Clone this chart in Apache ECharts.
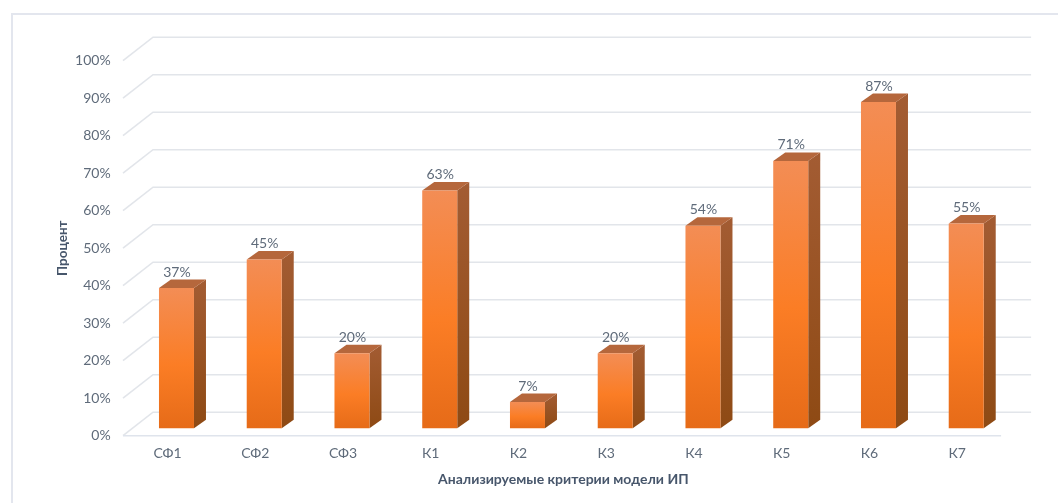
<!DOCTYPE html>
<html><head><meta charset="utf-8">
<style>html,body{margin:0;padding:0;background:#fff}#c{width:1058px;height:503px}</style>
<script src="https://cdn.jsdelivr.net/npm/echarts@6/dist/echarts.min.js"></script>
</head><body><div id="c"></div>
<script>
const categories = ['СФ1','СФ2','СФ3','К1','К2','К3','К4','К5','К6','К7'];
const values = [37.4,45,20,63.4,7,20,54,71.3,87,54.6];
const gridTicks = [0,10,20,30,40,50,60,70,80,90,100];

const FONT = 'Lato, sans-serif';
const TXT = '#5f6b7a';
const BAR_W = 35;
// oblique depth of the wall, and of a bar standing on the floor
const WALL = {dx: 30, dy: -23.5};
const BAR_SHIFT = {dx: 0, dy: -7.4};
const BAR_D = {dx: 12, dy: -8.5};
const lg = (a, b, c) => new echarts.graphic.LinearGradient(0, 0, 0, 1,
  c ? [{offset:0,color:a},{offset:0.55,color:b},{offset:1,color:c}] : [{offset:0,color:a},{offset:1,color:b}]);

const chart = echarts.init(document.getElementById('c'), null, {renderer:'canvas'});
chart.setOption({
  animation: false,
  backgroundColor: '#ffffff',
  grid: {left: 132.6, top: 60.7, width: 877.5, height: 375},
  graphic: [{
    type: 'polyline', silent: true, z: 0,
    shape: {points: [[12,503],[12,14],[1058,14]]},
    style: {stroke:'#e3e6ee', lineWidth: 2, fill: null}
  }],
  xAxis: {
    type: 'category', data: categories,
    axisLine: {show:false}, axisTick: {show:false}, splitLine: {show:false},
    axisLabel: {color: TXT, fontFamily: FONT, fontSize: 14, margin: 11, padding: [0,18,0,0]},
    name: 'Анализируемые критерии модели ИП', nameLocation: 'middle', nameGap: 37, nameMoveOverlap: false,
    nameTextStyle: {color:'#47566b', fontFamily: FONT, fontSize: 14, fontWeight:'bold', padding: [0,16,0,0]}
  },
  yAxis: {
    type: 'value', min: 0, max: 100, interval: 10,
    axisLine: {show:false}, axisTick: {show:false}, splitLine: {show:false},
    axisLabel: {color: TXT, fontFamily: FONT, fontSize: 14, margin: 22, formatter: '{value}%',
      verticalAlign: 'middle', padding: [0,0,1,0]},
    name: 'Процент', nameLocation: 'middle', nameGap: 63, nameMoveOverlap: false,
    nameTextStyle: {color:'#47566b', fontFamily: FONT, fontSize: 13.5, fontWeight:'bold'}
  },
  series: [{
    type: 'custom', coordinateSystem: 'cartesian2d', silent: true, z: 1,
    data: gridTicks.map(v => [0, v]),
    clip: false,
    renderItem(params, api) {
      const v = api.value(1);
      const l = api.coord([0, v]);
      const x0 = params.coordSys.x - 9.6;
      const x1 = params.coordSys.x + params.coordSys.width - 9;
      const y = l[1];
      const shapes = [{
        type: 'polyline',
        shape: {points: [[x0, y],[x0 + WALL.dx, y + WALL.dy],[x1 + WALL.dx, y + WALL.dy]]},
        style: {stroke: '#e2e5ea', lineWidth: 1.6, fill: null}
      }];
      if (v === 0) shapes.push({
        type: 'line',
        shape: {x1: x0, y1: y, x2: x1, y2: y},
        style: {stroke: '#dfe4ec', lineWidth: 1.6}
      });
      return {type:'group', children: shapes};
    }
  },{
    type: 'custom', coordinateSystem: 'cartesian2d', silent: true, z: 2,
    data: values.map((v,i) => [i, v]),
    clip: false,
    renderItem(params, api) {
      const top = api.coord([api.value(0), api.value(1)]);
      const base = api.coord([api.value(0), 0]);
      const x0 = top[0] - BAR_W/2, x1 = top[0] + BAR_W/2;
      const yT = top[1] + BAR_SHIFT.dy, yB = base[1] + BAR_SHIFT.dy;
      const d = BAR_D;
      return {type:'group', children: [
        {type:'polygon', shape:{points:[[x1,yT],[x1+d.dx,yT+d.dy],[x1+d.dx,yB+d.dy],[x1,yB]]},
          style:{fill: lg('#a35c33','#8e4a14')}},
        {type:'polygon', shape:{points:[[x0,yT],[x1,yT],[x1+d.dx,yT+d.dy],[x0+d.dx,yT+d.dy]]},
          style:{fill:'#b5673c'}},
        {type:'rect', shape:{x:x0,y:yT,width:BAR_W,height:yB-yT},
          style:{fill: lg('#f38d55','#fb7d25','#e66b18')}},
        {type:'text', x: x0 + BAR_W/2 + 0.5, y: yT + d.dy - 0.5,
          style:{text: Math.round(api.value(1)) + '%', fill: TXT, font: '14px '+FONT, textAlign:'center', textVerticalAlign:'bottom'}}
      ]};
    }
  }]
});
</script></body></html>
